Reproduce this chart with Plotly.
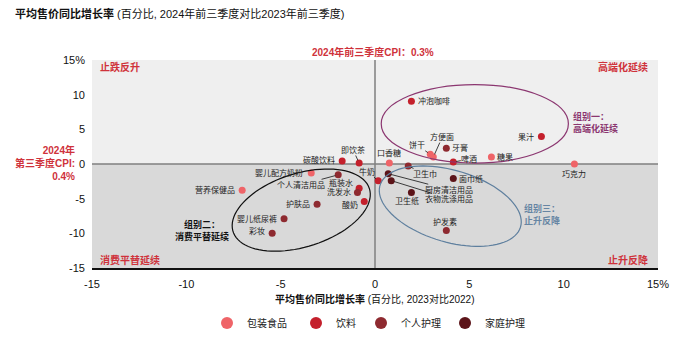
import numpy as np
import plotly.graph_objects as go

# ---------------- data ----------------
categories = ["包装食品", "饮料", "个人护理", "家庭护理"]
cat_colors = ["#ef6468", "#c4202c", "#8e2a30", "#5c1419"]

food_names = ["巧克力", "糖果", "饼干", "方便面", "口香糖", "婴儿配方奶粉", "营养保健品"]
food_x = [10.57, 6.17, 2.93, 3.09, 0.76, -3.38, -7.04]
food_y = [0.0, 1.0, 1.4, 1.0, 0.14, -1.3, -3.8]

bev_names = ["冲泡咖啡", "果汁", "啤酒", "即饮茶", "碳酸饮料", "牛奶", "瓶装水", "酸奶"]
bev_x = [1.93, 8.82, 4.15, -0.84, -1.74, 0.17, -0.84, -0.57]
bev_y = [9.06, 3.96, 0.28, 0.14, 0.42, -2.4, -3.5, -5.4]

pc_names = ["牙膏", "卫生巾", "护发素", "个人清洁用品", "洗发水", "护肤品", "婴儿纸尿裤", "彩妆"]
pc_x = [3.78, 1.76, 3.78, -1.95, -0.93, -3.07, -4.82, -5.45]
pc_y = [2.26, -0.28, -9.6, -1.56, -4.1, -5.8, -7.9, -10.0]

hc_names = ["厨房清洁用品", "衣物洗涤用品", "面巾纸", "卫生纸"]
hc_x = [0.7, 0.86, 4.15, 1.93]
hc_y = [-1.4, -2.4, -2.1, -4.1]

tick_vals = [-15, -10, -5, 0, 5, 10, 15]
tick_text = ["-15", "-10", "-5", "0", "5", "10", "15%"]

cpi_2024_q1q3 = 0.3
cpi_2024_q3 = 0.4

# ---------------- label placement (style) ----------------
# ("arrow", ax, ay) | ("right"/"left"/"above"/"below", xshift, yshift)
label_pos = {
    "冲泡咖啡": ("right", 5, 0), "果汁": ("left", -5, 0), "巧克力": ("below", 0, -3),
    "糖果": ("right", 4, 0), "牙膏": ("right", 4, 0), "口香糖": ("above", 0, 3),
    "面巾纸": ("right", 4, 0), "卫生纸": ("below", -4, -2), "护发素": ("above", -1, 2),
    "碳酸饮料": ("left", -5, 1), "婴儿配方奶粉": ("left", -6, 0), "营养保健品": ("left", -5, 0),
    "瓶装水": ("left", -4, 5), "洗发水": ("left", -4, 0), "酸奶": ("left", -4, -4),
    "护肤品": ("left", -5, 0), "婴儿纸尿裤": ("left", -5, 0), "彩妆": ("left", -5, 2),
    "啤酒": ("arrow", 16, -3), "方便面": ("arrow", 9, -20), "饼干": ("arrow", -13, -9),
    "卫生巾": ("arrow", 17, 8), "厨房清洁用品": ("arrow", 61, 16),
    "衣物洗涤用品": ("arrow", 58, 18), "牛奶": ("arrow", -11, -9),
    "即饮茶": ("arrow", -6, -13), "个人清洁用品": ("arrow", -37, 10),
}

FONT = "Liberation Sans, Arial, Noto Sans CJK SC, sans-serif"
W, H = 700, 349
ML, MR, MT, MB = 92, 42, 60, 77
PW, PH = W - ML - MR, H - MT - MB
PX_X = PW / 30.0
PX_Y = PH / 30.0

fig = go.Figure()

series = [
    (food_names, food_x, food_y),
    (bev_names, bev_x, bev_y),
    (pc_names, pc_x, pc_y),
    (hc_names, hc_x, hc_y),
]
legend_ids = ["legend", "legend2", "legend3", "legend4"]
for (names, xs, ys), cat, col, lg in zip(series, categories, cat_colors, legend_ids):
    fig.add_trace(go.Scatter(
        x=xs, y=ys, mode="markers", name=cat, text=names,
        marker=dict(size=7, color=col), legend=lg, cliponaxis=False, showlegend=True,
    ))

annotations = []
for names, xs, ys in series:
    for n, x, y in zip(names, xs, ys):
        kind, a, b = label_pos[n]
        base = dict(x=x, y=y, xref="x", yref="y", text=n,
                    font=dict(family=FONT, size=8, color="#222222"))
        if kind == "arrow":
            base.update(showarrow=True, ax=a, ay=b, arrowhead=0, arrowwidth=0.8,
                        arrowcolor="#111111", standoff=3, borderpad=0)
        else:
            base.update(showarrow=False, xshift=a, yshift=b)
            if kind == "right":
                base.update(xanchor="left", yanchor="middle")
            elif kind == "left":
                base.update(xanchor="right", yanchor="middle")
            elif kind == "above":
                base.update(xanchor="center", yanchor="bottom")
            else:
                base.update(xanchor="center", yanchor="top")
        annotations.append(base)


def px2paper_x(px):
    return (px - ML) / PW


def py2paper_y(py):
    return 1 - (py - MT) / PH


red = "#cf323b"
# quadrant labels
for txt, px, py, xa in [("止跌反升", 98, 67, "left"), ("高端化延续", 650, 67, "right"),
                        ("消费平替延续", 98, 264, "left"), ("止升反降", 650, 264, "right")]:
    annotations.append(dict(text="<b>%s</b>" % txt, xref="paper", yref="paper",
                            x=px2paper_x(px), y=py2paper_y(py), xanchor=xa, yanchor="middle",
                            showarrow=False, font=dict(family=FONT, size=10, color=red)))

# CPI labels
annotations.append(dict(text="<b>2024年前三季度CPI：%s%%</b>" % cpi_2024_q1q3, xref="paper", yref="paper",
                        x=px2paper_x(373), y=py2paper_y(52), xanchor="center", yanchor="middle",
                        showarrow=False, font=dict(family=FONT, size=10, color=red)))
annotations.append(dict(text="<b>2024年<br>第三季度CPI:<br>%s%%</b>" % cpi_2024_q3, xref="paper", yref="paper",
                        x=px2paper_x(77), y=py2paper_y(164.5), xanchor="right", yanchor="middle",
                        align="right", showarrow=False, font=dict(family=FONT, size=10, color=red)))

# group labels
annotations.append(dict(text="<b>组别一：<br>高端化延续</b>", xref="paper", yref="paper",
                        x=px2paper_x(571), y=py2paper_y(123.5), xanchor="left", yanchor="middle",
                        align="left", showarrow=False, font=dict(family=FONT, size=9, color="#8b3670")))
annotations.append(dict(text="<b>组别二：<br>消费平替延续</b>", xref="paper", yref="paper",
                        x=px2paper_x(202), y=py2paper_y(234), xanchor="center", yanchor="middle",
                        align="center", showarrow=False, font=dict(family=FONT, size=9, color="#111111")))
annotations.append(dict(text="<b>组别三：<br>止升反降</b>", xref="paper", yref="paper",
                        x=px2paper_x(522), y=py2paper_y(217.5), xanchor="left", yanchor="middle",
                        align="left", showarrow=False, font=dict(family=FONT, size=9, color="#6685a3")))

# x axis title
annotations.append(dict(text="<b>平均售价同比增长率</b> (百分比, 2023对比2022)", xref="paper", yref="paper",
                        x=px2paper_x(375), y=py2paper_y(304), xanchor="center", yanchor="middle",
                        showarrow=False, font=dict(family=FONT, size=10, color="#111111")))


def ellipse_path(cx, cy, a_px, b_px, theta_deg, n=90):
    t = np.linspace(0, 2 * np.pi, n)
    th = np.radians(theta_deg)
    dx = a_px * np.cos(t) * np.cos(th) - b_px * np.sin(t) * np.sin(th)
    dy = a_px * np.cos(t) * np.sin(th) + b_px * np.sin(t) * np.cos(th)
    xs = cx + dx / PX_X
    ys = cy + dy / PX_Y
    return "M " + " L ".join("%.4f,%.4f" % (u, v) for u, v in zip(xs, ys)) + " Z"


shapes = [
    dict(type="rect", xref="x", yref="y", x0=-15, x1=15, y0=0, y1=15,
         fillcolor="#efefef", line=dict(width=0), layer="below"),
    dict(type="rect", xref="x", yref="y", x0=-15, x1=15, y0=-15, y1=0,
         fillcolor="#d9d9d9", line=dict(width=0), layer="below"),
    dict(type="line", xref="x", yref="y", x0=-15, x1=15, y0=0, y1=0,
         line=dict(color="#7f7f7f", width=1.5), layer="below"),
    dict(type="line", xref="x", yref="y", x0=0, x1=0, y0=-15, y1=15,
         line=dict(color="#7f7f7f", width=1.5), layer="below"),
    dict(type="circle", xref="x", yref="y", x0=0.33, x1=10.25, y0=0.14, y1=11.46,
         line=dict(color="#8b3670", width=1.2)),
    dict(type="path", xref="x", yref="y", path=ellipse_path(-3.91, -6.65, 71.6, 37.4, 18),
         line=dict(color="#111111", width=1.2)),
    dict(type="path", xref="x", yref="y", path=ellipse_path(3.99, -6.08, 73.4, 36.5, -17),
         line=dict(color="#5e7f9e", width=1.2)),
]

legend_common = dict(orientation="h", yref="paper", y=py2paper_y(328), yanchor="middle",
                     xanchor="left", bgcolor="rgba(0,0,0,0)", itemsizing="constant", visible=True,
                     font=dict(family=FONT, size=10, color="#222222"))
leg_marker_px = [229, 318, 383, 467]
legends = {}
for lg, mpx in zip(legend_ids, leg_marker_px):
    d = dict(legend_common)
    d["x"] = px2paper_x(mpx - 22)
    legends[lg] = d

fig.update_layout(
    width=W, height=H,
    margin=dict(l=ML, r=MR, t=MT, b=MB),
    showlegend=True,
    paper_bgcolor="white", plot_bgcolor="rgba(0,0,0,0)",
    font=dict(family=FONT, size=11, color="#111111"),
    title=dict(text="<b>平均售价同比增长率</b> (百分比, 2024年前三季度对比2023年前三季度)",
               x=15 / W, xanchor="left", y=1 - 14 / H, yanchor="middle",
               font=dict(family=FONT, size=11, color="#111111")),
    xaxis=dict(range=[-15, 15], tickvals=tick_vals, ticktext=tick_text, showgrid=False,
               zeroline=False, showline=True, linecolor="#111111", linewidth=2,
               ticks="", ticklabelstandoff=5, tickfont=dict(size=11, color="#111111")),
    yaxis=dict(range=[-15, 15], tickvals=tick_vals, ticktext=tick_text, showgrid=False,
               zeroline=False, showline=False, ticks="", ticklabelstandoff=6,
               tickfont=dict(size=11, color="#111111")),
    shapes=shapes,
    annotations=annotations,
    **legends,
)

fig.write_html("out.html")
